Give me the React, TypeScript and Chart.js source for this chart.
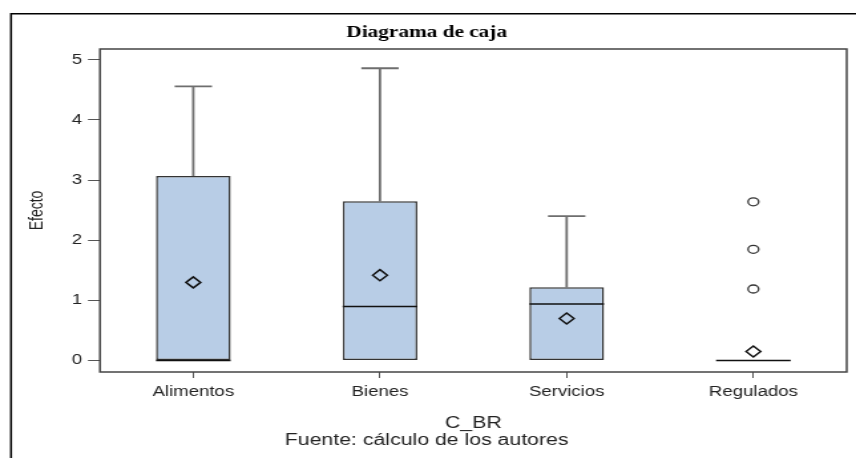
import React, { useEffect, useRef } from "react";
import { Chart, registerables } from "chart.js";

Chart.register(...registerables);

// ---- Data ----
const categories = ["Alimentos", "Bienes", "Servicios", "Regulados"];
const q1 = [0, 0, 0, 0];
const medians = [0, 0.9, 0.94, 0];
const q3 = [3.07, 2.65, 1.22, 0];
const whiskerLow = [0, 0, 0, 0];
const whiskerHigh = [4.56, 4.86, 2.4, 0];
const means = [1.3, 1.42, 0.7, 0.15];
const outlierCategory = ["Regulados", "Regulados", "Regulados"];
const outlierValues = [2.64, 1.85, 1.19];
const yTicks = [0, 1, 2, 3, 4, 5];

const chartTitle = "Diagrama de caja";
const xTitle = "C_BR";
const yTitle = "Efecto";
const sourceNote = "Fuente: cálculo de los autores";

// ---- Styling ----
const SANS = "'Liberation Sans', Arial, sans-serif";
const SERIF = "'Liberation Serif', 'Times New Roman', serif";
const CANVAS_W = 644; // internal drawing width, stretched to 856px on screen
const CANVAS_H = 458;

const boxPlugin = {
  id: "boxDecor",
  beforeDraw(chart: any) {
    const ctx = chart.ctx;
    ctx.save();
    ctx.strokeStyle = "#000";
    ctx.lineWidth = 1.5;
    ctx.beginPath();
    ctx.moveTo(8.3, CANVAS_H + 10);
    ctx.lineTo(8.3, 13.7);
    ctx.lineTo(CANVAS_W + 10, 13.7);
    ctx.stroke();
    ctx.restore();
  },
  beforeDatasetsDraw(chart: any) {
    const ctx = chart.ctx;
    const xs = chart.scales.x;
    const ys = chart.scales.y;
    const meta = chart.getDatasetMeta(0);
    ctx.save();
    ctx.strokeStyle = "#6e6e6e";
    ctx.lineWidth = 1.8;
    categories.forEach((_, i) => {
      const x = xs.getPixelForValue(i);
      const bar = meta.data[i];
      const half = bar ? bar.width / 4 : 14;
      if (whiskerHigh[i] > q3[i]) {
        const yT = ys.getPixelForValue(whiskerHigh[i]);
        const yB = ys.getPixelForValue(q3[i]);
        ctx.beginPath();
        ctx.moveTo(x, yB);
        ctx.lineTo(x, yT);
        ctx.moveTo(x - half, yT);
        ctx.lineTo(x + half, yT);
        ctx.stroke();
      }
      if (whiskerLow[i] < q1[i]) {
        const yT = ys.getPixelForValue(q1[i]);
        const yB = ys.getPixelForValue(whiskerLow[i]);
        ctx.beginPath();
        ctx.moveTo(x, yT);
        ctx.lineTo(x, yB);
        ctx.moveTo(x - half, yB);
        ctx.lineTo(x + half, yB);
        ctx.stroke();
      }
    });
    ctx.restore();
  },
  afterDatasetDraw(chart: any, args: any) {
    if (args.index !== 0) return;
    const ctx = chart.ctx;
    const xs = chart.scales.x;
    const ys = chart.scales.y;
    const meta = chart.getDatasetMeta(0);
    ctx.save();
    ctx.strokeStyle = "#111";
    ctx.lineWidth = 1.5;
    categories.forEach((_, i) => {
      const x = xs.getPixelForValue(i);
      const bar = meta.data[i];
      const half = bar ? bar.width / 2 : 28;
      const y = ys.getPixelForValue(medians[i]);
      ctx.beginPath();
      ctx.moveTo(x - half, y);
      ctx.lineTo(x + half, y);
      ctx.stroke();
    });
    ctx.restore();
  },
  afterDraw(chart: any) {
    const { ctx, chartArea } = chart;
    ctx.save();
    ctx.strokeStyle = "#444";
    ctx.lineWidth = 1.5;
    ctx.strokeRect(
      chartArea.left,
      chartArea.top,
      chartArea.right - chartArea.left,
      chartArea.bottom - chartArea.top
    );
    ctx.restore();
  },
};

export default function App() {
  const canvasRef = useRef<HTMLCanvasElement | null>(null);

  useEffect(() => {
    if (!canvasRef.current) return;
    const chart = new Chart(canvasRef.current, {
      type: "bar",
      data: {
        labels: categories,
        datasets: [
          {
            type: "bar",
            data: categories.map((_, i) => [q1[i], q3[i]]) as any,
            backgroundColor: "#b8cde6",
            borderColor: "#333",
            borderWidth: 1.5,
            borderSkipped: false,
            barPercentage: 0.4,
            categoryPercentage: 1,
            order: 2,
          } as any,
          {
            type: "line",
            data: means,
            showLine: false,
            pointStyle: "rectRot",
            pointRadius: 5.5,
            pointBorderWidth: 1.5,
            pointBorderColor: "#111",
            pointBackgroundColor: "rgba(0,0,0,0)",
            order: 1,
          } as any,
          {
            type: "line",
            data: outlierValues.map((v, k) => ({ x: outlierCategory[k], y: v })),
            showLine: false,
            pointStyle: "circle",
            pointRadius: 4,
            pointBorderWidth: 1.3,
            pointBorderColor: "#333",
            pointBackgroundColor: "rgba(0,0,0,0)",
            order: 0,
          } as any,
        ],
      },
      options: {
        animation: false,
        responsive: false,
        devicePixelRatio: 1,
        layout: { padding: { left: 0, right: 2, top: 0, bottom: 0 } },
        plugins: {
          legend: { display: false },
          tooltip: { enabled: false },
          title: {
            display: true,
            text: chartTitle,
            color: "#000",
            font: { family: SERIF, size: 16, weight: "bold", lineHeight: 1.2 },
            padding: { top: 23.4, bottom: 6.4 },
          },
          subtitle: {
            display: true,
            position: "bottom",
            text: sourceNote,
            color: "#222",
            font: { family: SANS, size: 16, weight: "normal", lineHeight: 1.2 },
            padding: { top: -2, bottom: 7.4 },
          },
        },
        scales: {
          x: {
            type: "category",
            offset: true,
            grid: {
              display: true,
              offset: false,
              drawOnChartArea: false,
              drawTicks: true,
              tickLength: 6,
              color: "#555",
            },
            border: { display: false },
            ticks: {
              color: "#222",
              font: { family: SANS, size: 14, lineHeight: 1.2 },
              padding: 6.1,
              maxRotation: 0,
              autoSkip: false,
            },
            title: {
              display: true,
              text: xTitle,
              color: "#222",
              font: { family: SANS, size: 16, lineHeight: 1.2 },
              padding: { top: 0, bottom: 0 },
            },
            afterFit: (scale: any) => {
              scale.height = 61.4;
            },
          },
          y: {
            type: "linear",
            min: -0.19,
            max: 5.18,
            grid: {
              display: true,
              drawOnChartArea: false,
              drawTicks: true,
              tickLength: 9,
              color: "#555",
            },
            border: { display: false },
            ticks: {
              color: "#222",
              font: { family: SANS, size: 14, lineHeight: 1.2 },
              padding: 4.5,
            },
            afterBuildTicks: (scale: any) => {
              scale.ticks = yTicks.map((v) => ({ value: v }));
            },
            title: {
              display: true,
              text: yTitle,
              color: "#222",
              font: { family: SANS, size: 14, lineHeight: 1.2 },
              padding: { top: 19.5, bottom: 0 },
            },
            afterFit: (scale: any) => {
              scale.width = 75.2;
            },
          },
        },
      } as any,
      plugins: [boxPlugin],
    });
    return () => chart.destroy();
  }, []);

  return (
    <div
      style={{
        position: "fixed",
        left: 0,
        top: 0,
        width: 856,
        height: CANVAS_H,
        background: "#fff",
      }}
    >
      <canvas
        ref={canvasRef}
        width={CANVAS_W}
        height={CANVAS_H}
        style={{ width: "856px", height: `${CANVAS_H}px`, display: "block" }}
      />
    </div>
  );
}
